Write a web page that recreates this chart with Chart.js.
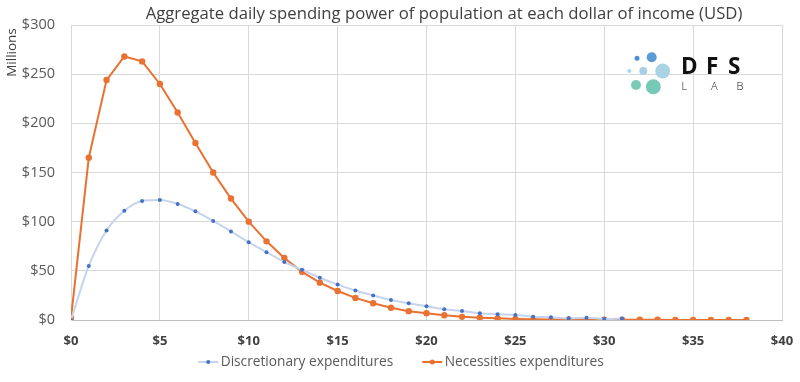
<!DOCTYPE html>
<html><head><meta charset="utf-8">
<script src="https://cdn.jsdelivr.net/npm/chart.js@4/dist/chart.umd.min.js"></script>
<style>html,body{margin:0;padding:0;background:#fff}#wrap{width:800px;height:382px;position:relative}</style>
</head><body><div id="wrap"><canvas id="c" width="800" height="382"></canvas></div>
<script>
const chartTitle = "Aggregate daily spending power of population at each dollar of income (USD)";
const yAxisTitle = "Millions";
const seriesNames = ["Discretionary expenditures", "Necessities expenditures"];
const incomeDiscretionary = [0,1,2,3,4,5,6,7,8,9,10,11,12,13,14,15,16,17,18,19,20,21,22,23,24,25,26,27,28,29,30,31];
const discretionary = [0,55,91,111,121,122,118,110.5,100.7,90,79,69,59,51,43,36,30,25,20.4,17,14,11,9.2,6.8,5.8,5.1,3.4,2.7,1.7,2.4,1,1.4];
const incomeNecessities = [0,1,2,3,4,5,6,7,8,9,10,11,12,13,14,15,16,17,18,19,20,21,22,23,24,25,26,27,28,29,30,31,32,33,34,35,36,37,38];
const necessities = [2,165,244,268,263,240,211,180,150,123.5,100,80,63,49,38,29.5,22.5,17,12.5,9,6.8,4.8,3.2,2.4,1.7,1.1,0.8,0.6,0.5,0.4,0.3,0.3,0.2,0.2,0.1,0.1,0.1,0.1,0.1];
const xTickValues = [0,5,10,15,20,25,30,35,40];
const yTickValues = [0,50,100,150,200,250,300];

const FONT = '"Open Sans", "Liberation Sans", sans-serif';
const blueLine = '#c6d3ed', blueDot = '#4472c4', orange = '#e97132';

const decor = {
  id: 'decor',
  afterDraw(chart) {
    const ctx = chart.ctx;
    ctx.save();
    ctx.fillStyle = '#404040';
    ctx.font = '16.7px ' + FONT;
    ctx.textAlign = 'center'; ctx.textBaseline = 'middle';
    ctx.fillText(chartTitle, 444, 14);
    // y axis title
    ctx.save();
    ctx.translate(12, 52.5);
    ctx.rotate(-Math.PI / 2);
    ctx.font = '13.5px ' + FONT;
    ctx.fillText(yAxisTitle, 0, 0);
    ctx.restore();
    // legend (from dataset styles)
    ctx.font = '13.7px ' + FONT;
    ctx.textAlign = 'left';
    const ds = chart.data.datasets;
    const widths = ds.map(d => ctx.measureText(d.label).width);
    const itemW = widths.map(w => 20 + 2.5 + w);
    const gap = 29;
    let x = 401 - (itemW[0] + gap + itemW[1]) / 2;
    const ly = 362;
    ds.forEach((d, i) => {
      ctx.strokeStyle = d.borderColor; ctx.lineWidth = 2;
      ctx.beginPath(); ctx.moveTo(x, ly); ctx.lineTo(x + 20, ly); ctx.stroke();
      ctx.fillStyle = d.pointBackgroundColor;
      ctx.beginPath(); ctx.arc(x + 10, ly, i === 0 ? 2 : 2.5, 0, Math.PI * 2); ctx.fill();
      ctx.fillStyle = '#595959';
      ctx.fillText(d.label, x + 22.5, ly);
      x += itemW[i] + gap;
    });
    // logo
    const circles = [
      [637, 58.3, 2.5, '#4d8fcc'], [651.7, 57.3, 5, '#5b9bd5'],
      [629.3, 71, 2, '#a8d8e8'], [643.3, 71, 4, '#a9cfe6'], [662.7, 71, 7.5, '#a8d4e6'],
      [636, 85, 5, '#7acbb8'], [653.3, 86.7, 7.5, '#76c9b6']
    ];
    circles.forEach(([cx, cy, r, c]) => { ctx.fillStyle = c; ctx.beginPath(); ctx.arc(cx, cy, r, 0, Math.PI * 2); ctx.fill(); });
    ctx.fillStyle = '#111';
    ctx.textBaseline = 'alphabetic';
    ctx.font = 'bold 22.5px ' + FONT;
    [['D', 681], ['F', 706], ['S', 728]].forEach(([t, tx]) => ctx.fillText(t, tx, 73.5));
    ctx.font = '300 11px ' + FONT;
    [['L', 681.5], ['A', 711], ['B', 736.5]].forEach(([t, tx]) => ctx.fillText(t, tx, 89.5));
    ctx.restore();
  }
};

new Chart(document.getElementById('c'), {
  type: 'line',
  data: {
    datasets: [
      {
        label: seriesNames[0],
        data: incomeDiscretionary.map((x, i) => ({ x, y: discretionary[i] })),
        borderColor: blueLine, backgroundColor: blueDot,
        pointBackgroundColor: blueDot, pointBorderColor: blueDot,
        pointRadius: 2, pointBorderWidth: 0, borderWidth: 2,
        cubicInterpolationMode: 'monotone', pointStyle: 'circle'
      },
      {
        label: seriesNames[1],
        data: incomeNecessities.map((x, i) => ({ x, y: necessities[i] })),
        borderColor: orange, backgroundColor: orange,
        pointBackgroundColor: orange, pointBorderColor: orange,
        pointRadius: 3.2, pointBorderWidth: 0, borderWidth: 2,
        tension: 0, pointStyle: 'circle'
      }
    ]
  },
  options: {
    responsive: false, animation: false,
    layout: { padding: { top: 25, right: 18, left: 0, bottom: 32 } },
    plugins: {
      title: { display: false },
      tooltip: { enabled: false },
      legend: { display: false }
    },
    scales: {
      x: {
        type: 'linear', min: 0, max: 40,
        afterBuildTicks(s) { s.ticks = xTickValues.map(v => ({ value: v })); },
        afterFit(s) { s.height = 30; s.paddingLeft = 0; s.paddingRight = 0; },
        ticks: { callback: v => '$' + v, color: '#404040', font: { family: FONT, size: 13, weight: 'bold' }, padding: 13, maxRotation: 0 },
        grid: { color: '#d9d9d9', drawTicks: false },
        border: { color: '#bfbfbf', width: 1 }
      },
      y: {
        min: 0, max: 300,
        afterBuildTicks(s) { s.ticks = yTickValues.map(v => ({ value: v })); },
        afterFit(s) { s.width = 71; s.paddingTop = 0; s.paddingBottom = 0; },
        ticks: { callback: v => '$' + v, color: '#595959', font: { family: FONT, size: 14.5 }, padding: 16 },
        grid: { color: '#d9d9d9', drawTicks: false },
        border: { color: '#d9d9d9' }
      }
    }
  },
  plugins: [decor]
});
</script></body></html>
